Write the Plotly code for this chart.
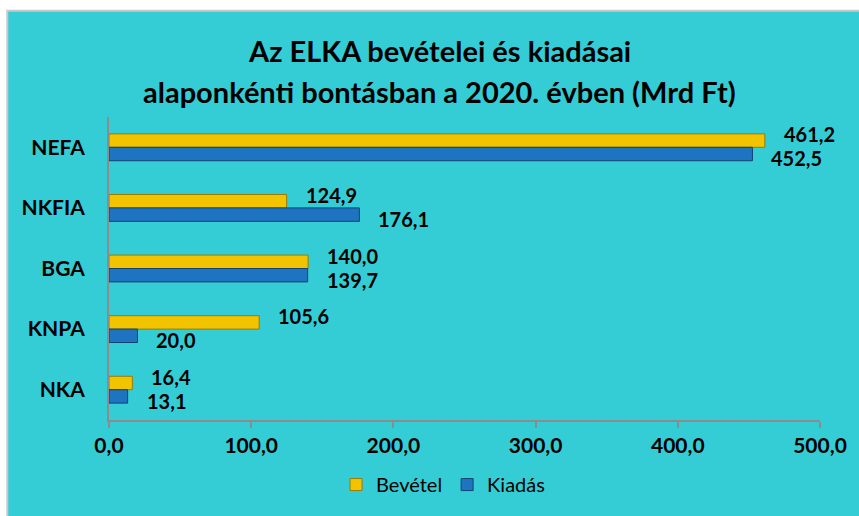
import plotly.graph_objects as go

categories = ["NEFA", "NKFIA", "BGA", "KNPA", "NKA"]
bevetel = [461.2, 124.9, 140.0, 105.6, 16.4]
kiadas = [452.5, 176.1, 139.7, 20.0, 13.1]
x_ticks = [0, 100, 200, 300, 400, 500]
x_tick_labels = ["0,0", "100,0", "200,0", "300,0", "400,0", "500,0"]

W, H = 859, 516
ML, MR, MT, MB = 109, 37, 117, 94
PW, PH = W - ML - MR, H - MT - MB

def px(x):
    return (x - ML) / PW

def py(y):
    return (H - MB - y) / PH

BG = "#35CDD5"
FONT = "Lato"

def fmt(v):
    return f"{v:.1f}".replace(".", ",")

fig = go.Figure()
fig.add_trace(go.Bar(
    name="Bevétel", y=categories, x=bevetel, orientation="h",
    marker=dict(color="#F2C400", line=dict(color="#9A7A00", width=1)),
))
fig.add_trace(go.Bar(
    name="Kiadás", y=categories, x=kiadas, orientation="h",
    marker=dict(color="#1E74C0", line=dict(color="#12426F", width=1)),
))

annotations = []
for c, v in zip(categories, bevetel):
    annotations.append(dict(x=v, y=c, xref="x", yref="y", text=fmt(v), showarrow=False,
                            xanchor="left", yanchor="middle", xshift=17, yshift=13,
                            font=dict(family=FONT, size=20, color="black", weight="bold")))
for c, v in zip(categories, kiadas):
    annotations.append(dict(x=v, y=c, xref="x", yref="y", text=fmt(v), showarrow=False,
                            xanchor="left", yanchor="middle", xshift=17, yshift=-11,
                            font=dict(family=FONT, size=20, color="black", weight="bold")))

annotations.append(dict(x=px(440), y=py(50), xref="paper", yref="paper",
                        text="Az ELKA bevételei és kiadásai", showarrow=False,
                        xanchor="center", yanchor="middle",
                        font=dict(family=FONT, size=29, color="black", weight="bold")))
annotations.append(dict(x=px(440), y=py(91), xref="paper", yref="paper",
                        text="alaponkénti bontásban a 2020. évben (Mrd Ft)", showarrow=False,
                        xanchor="center", yanchor="middle",
                        font=dict(family=FONT, size=29, color="black", weight="bold")))

shapes = [
    dict(type="rect", xref="paper", yref="paper", x0=px(7), x1=px(W + 5), y0=py(H + 5), y1=py(10),
         fillcolor=BG, line=dict(color="#C8C8C8", width=2), layer="below"),
]

fig.update_layout(
    width=W, height=H,
    margin=dict(l=ML, r=MR, t=MT, b=MB, pad=0),
    paper_bgcolor="white", plot_bgcolor=BG,
    barmode="group", bargap=0.557, bargroupgap=0,
    showlegend=True,
    legend=dict(orientation="h", x=px(444), xanchor="center", y=py(487), yanchor="middle",
                font=dict(family=FONT, size=20, color="black"), bgcolor="rgba(0,0,0,0)",
                traceorder="normal", itemwidth=30),
    annotations=annotations, shapes=shapes,
    font=dict(family=FONT),
)
fig.update_xaxes(range=[0, 500], tickvals=x_ticks, ticktext=x_tick_labels,
                 showgrid=False, zeroline=False, showline=True, linecolor="#8C8C8C", linewidth=2,
                 ticks="outside", ticklen=6, tickcolor="#8C8C8C", tickwidth=2,
                 tickfont=dict(family=FONT, size=21, color="black", weight="bold"))
fig.update_yaxes(categoryorder="array", categoryarray=categories, autorange="reversed",
                 showgrid=False, zeroline=False, showline=True, linecolor="#8C8C8C", linewidth=2,
                 ticks="", ticklabelstandoff=18,
                 tickfont=dict(family=FONT, size=21, color="black", weight="bold"))

fig.write_html("out.html", config={"displayModeBar": False},
               post_script="document.body.style.margin='0';")
